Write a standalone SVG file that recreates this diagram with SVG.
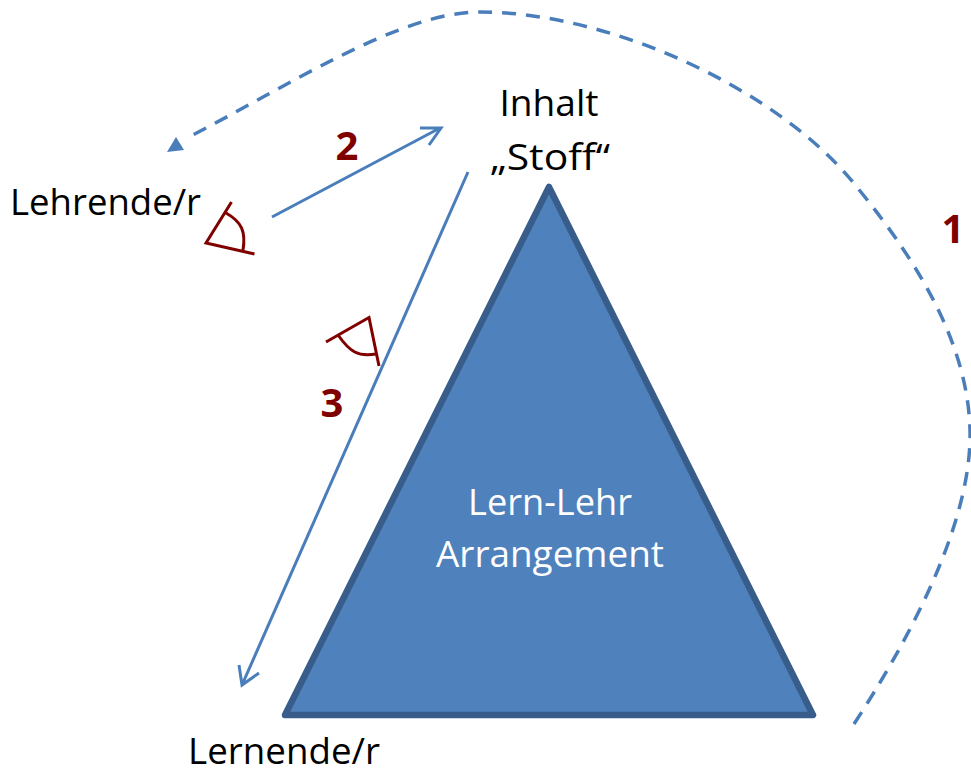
<svg xmlns="http://www.w3.org/2000/svg" width="971" height="775" viewBox="0 0 971 775">
<style>
.t{font-family:"Open Sans","Noto Sans","Liberation Sans",sans-serif;font-size:37px;fill:#000}
.w{fill:#fff}
.n{font-family:"Open Sans","Noto Sans","Liberation Sans",sans-serif;font-size:40px;font-weight:700;fill:#800000}
.a{fill:none;stroke:#4a7ebb;stroke-width:3}
.e{fill:none;stroke:#800000;stroke-width:3}
</style>
<rect width="971" height="775" fill="#fff"/>
<g id="connectors">
<path id="c1" d="M854 724C925 615 972 510 970 430C968 350 925 270 856 186C780 90 610 12 480 12C400 12 290 85 187 138" fill="none" stroke="#4a7ebb" stroke-width="3.500" stroke-dasharray="14 10"/>
<polygon points="176,137 167,152 184,150" fill="#4a7ebb"/>
<path id="c2" class="a" d="M272 217L440 128M420 128L441 128L429 145"/>
<path id="c3" class="a" d="M468 172L242 685M239 665L242 685L259 673"/>
</g>
<g id="triangle">
<polygon points="549,187 813,715 285,715" fill="#4f81bd" stroke="#385d8a" stroke-width="6.500" stroke-linejoin="round"/>
<text class="t w" x="550" y="515" text-anchor="middle" textLength="164" lengthAdjust="spacingAndGlyphs">Lern-Lehr</text>
<text class="t w" x="550" y="567" text-anchor="middle" textLength="228" lengthAdjust="spacingAndGlyphs">Arrangement</text>
</g>
<g id="inhalt">
<text class="t" x="549" y="116" text-anchor="middle" textLength="99" lengthAdjust="spacingAndGlyphs">Inhalt</text>
<text class="t" x="550" y="170" text-anchor="middle" textLength="120" lengthAdjust="spacingAndGlyphs">„Stoff“</text>
</g>
<g id="lehrende">
<text class="t" x="10" y="215" textLength="191" lengthAdjust="spacingAndGlyphs">Lehrende/r</text>
</g>
<g id="lernende">
<text class="t" x="188" y="764" textLength="192" lengthAdjust="spacingAndGlyphs">Lernende/r</text>
</g>
<g id="eye1">
<path class="e" d="M231.500 202L206 243L254.500 254M226 213C242 222 246 232 243 250"/>
</g>
<g id="eye2">
<path class="e" d="M326 342L369 317.500L379 366M338 335C350 352 358 357 376 354"/>
</g>
<g id="labels">
<text class="n" x="347" y="160" text-anchor="middle">2</text>
<text class="n" x="332" y="417" text-anchor="middle">3</text>
<text class="n" x="953" y="243" text-anchor="middle">1</text>
</g>
</svg>
